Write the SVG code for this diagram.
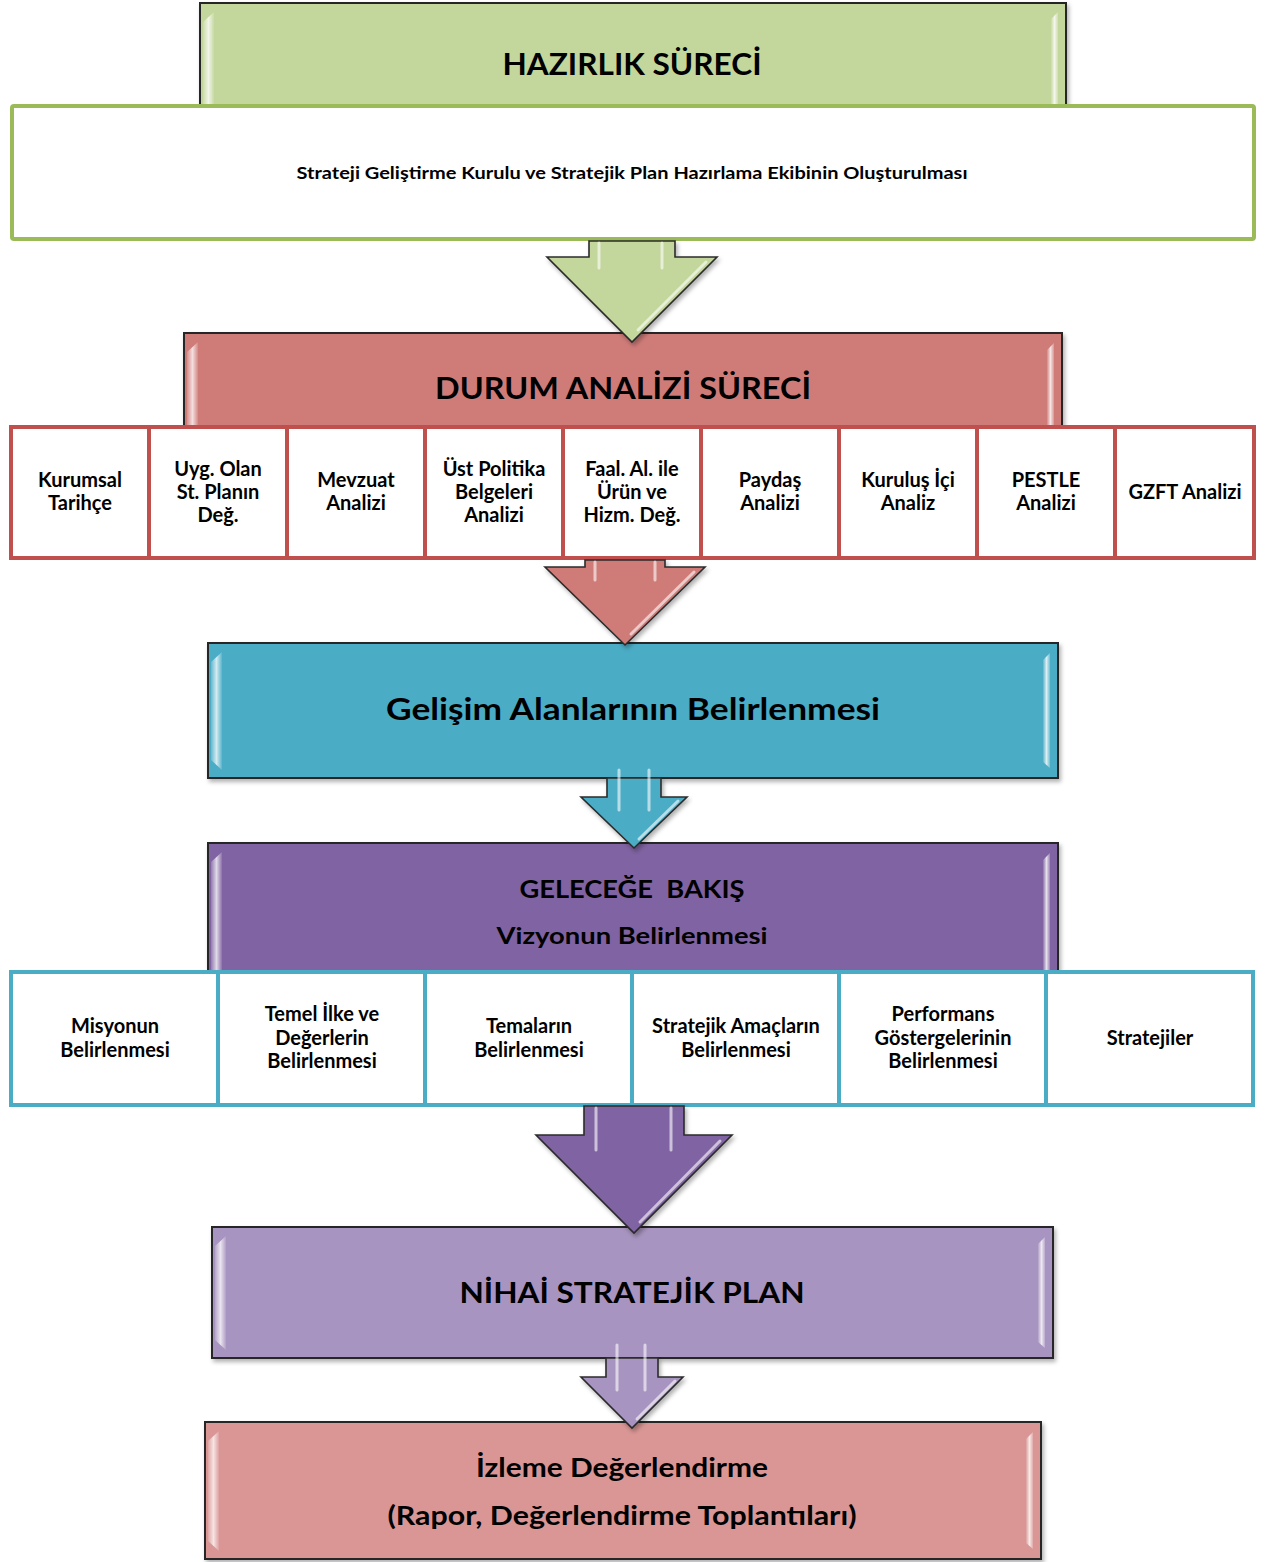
<svg xmlns="http://www.w3.org/2000/svg" width="1269" height="1562" viewBox="0 0 1269 1562">
<defs>
  <filter id="sh" x="-5%" y="-5%" width="110%" height="115%">
    <feDropShadow dx="2" dy="3" stdDeviation="2" flood-color="#000" flood-opacity="0.3"/>
  </filter>
  <linearGradient id="bevL" x1="0" y1="0" x2="1" y2="0">
    <stop offset="0" stop-color="#fff" stop-opacity="0.15"/>
    <stop offset="0.5" stop-color="#fff" stop-opacity="0.75"/>
    <stop offset="1" stop-color="#fff" stop-opacity="0.1"/>
  </linearGradient>
  <linearGradient id="bevR" x1="0" y1="0" x2="1" y2="0">
    <stop offset="0" stop-color="#fff" stop-opacity="0.1"/>
    <stop offset="0.5" stop-color="#fff" stop-opacity="0.8"/>
    <stop offset="1" stop-color="#fff" stop-opacity="0.2"/>
  </linearGradient>
</defs>
<style>
  .hdr { stroke: #262626; stroke-width: 2; filter: url(#sh); }
  .bl { fill: url(#bevL); }
  .br { fill: url(#bevR); }
  .arrow { stroke: #2b2b2b; stroke-width: 1.6; stroke-linejoin: miter; filter: url(#sh); }
  .hl { stroke: #fff; stroke-opacity: 0.6; stroke-width: 3; stroke-linecap: round; fill: none; }
  .t { font-family: Lato, "Open Sans", "Liberation Sans", sans-serif; font-weight: bold; fill: #000; text-anchor: middle; }
  .big { font-size: 30px; }
  .cell { font-size: 20px; }
  .rc { fill: #fff; stroke: #c0504d; stroke-width: 4; }
  .bc { fill: #fff; stroke: #4bacc6; stroke-width: 4; }
</style>

<!-- HAZIRLIK SÜRECİ header -->
<g id="hazirlik">
  <rect class="hdr" x="200" y="3" width="866" height="110" fill="#c3d69b"/>
  <path class="bl" d="M203,22 L214,12 L214,112 L203,112 Z"/>
  <path class="br" d="M1051,19 L1058,12 L1058,112 L1051,112 Z"/>
  <text class="t big" x="632" y="75" font-size="31" textLength="259" lengthAdjust="spacingAndGlyphs">HAZIRLIK SÜRECİ</text>
</g>

<g id="strateji-kurulu">
  <rect x="12" y="106" width="1242" height="133" rx="2" fill="#fff" stroke="#9bbb59" stroke-width="4"/>
  <text class="t" x="632" y="179" font-size="17" textLength="671" lengthAdjust="spacingAndGlyphs">Strateji Geliştirme Kurulu ve Stratejik Plan Hazırlama Ekibinin Oluşturulması</text>
</g>

<!-- DURUM ANALİZİ -->
<g id="durum">
  <rect class="hdr" x="184" y="333" width="878" height="100" fill="#cf7b79"/>
  <path class="bl" d="M187,352 L198,342 L198,432 L187,432 Z"/>
  <path class="br" d="M1047,350 L1054,343 L1054,432 L1047,432 Z"/>
  <text class="t big" x="623" y="399" textLength="376" lengthAdjust="spacingAndGlyphs">DURUM ANALİZİ SÜRECİ</text>
</g>

<g id="d1"><rect class="rc" x="11" y="427" width="138" height="131"/>
  <text class="t cell" x="80" y="487">Kurumsal</text><text class="t cell" x="80" y="510">Tarihçe</text></g>
<g id="d2"><rect class="rc" x="149" y="427" width="138" height="131"/>
  <text class="t cell" x="218" y="476">Uyg. Olan</text><text class="t cell" x="218" y="499">St. Planın</text><text class="t cell" x="218" y="522">Değ.</text></g>
<g id="d3"><rect class="rc" x="287" y="427" width="138" height="131"/>
  <text class="t cell" x="356" y="487">Mevzuat</text><text class="t cell" x="356" y="510">Analizi</text></g>
<g id="d4"><rect class="rc" x="425" y="427" width="138" height="131"/>
  <text class="t cell" x="494" y="476">Üst Politika</text><text class="t cell" x="494" y="499">Belgeleri</text><text class="t cell" x="494" y="522">Analizi</text></g>
<g id="d5"><rect class="rc" x="563" y="427" width="138" height="131"/>
  <text class="t cell" x="632" y="476">Faal. Al. ile</text><text class="t cell" x="632" y="499">Ürün ve</text><text class="t cell" x="632" y="522">Hizm. Değ.</text></g>
<g id="d6"><rect class="rc" x="701" y="427" width="138" height="131"/>
  <text class="t cell" x="770" y="487">Paydaş</text><text class="t cell" x="770" y="510">Analizi</text></g>
<g id="d7"><rect class="rc" x="839" y="427" width="138" height="131"/>
  <text class="t cell" x="908" y="487">Kuruluş İçi</text><text class="t cell" x="908" y="510">Analiz</text></g>
<g id="d8"><rect class="rc" x="977" y="427" width="138" height="131"/>
  <text class="t cell" x="1046" y="487">PESTLE</text><text class="t cell" x="1046" y="510">Analizi</text></g>
<g id="d9"><rect class="rc" x="1115" y="427" width="139" height="131"/>
  <text class="t cell" x="1185" y="499">GZFT Analizi</text></g>

<!-- Gelişim Alanları -->
<g id="gelisim">
  <rect class="hdr" x="208" y="643" width="850" height="135" fill="#4bacc6"/>
  <path class="bl" d="M211,662 L222,652 L222,770 L211,760 Z"/>
  <path class="br" d="M1043,660 L1050,653 L1050,768 L1043,762 Z"/>
  <text class="t big" x="633" y="720" font-size="31" textLength="494" lengthAdjust="spacingAndGlyphs">Gelişim Alanlarının Belirlenmesi</text>
</g>

<!-- GELECEĞE BAKIŞ -->
<g id="gelecege">
  <rect class="hdr" x="208" y="843" width="850" height="135" fill="#8064a2"/>
  <path class="bl" d="M211,862 L222,852 L222,977 L211,977 Z"/>
  <path class="br" d="M1043,860 L1050,853 L1050,977 L1043,977 Z"/>
  <text class="t" x="632" y="898" font-size="25" textLength="225" lengthAdjust="spacingAndGlyphs" xml:space="preserve">GELECEĞE  BAKIŞ</text>
  <text class="t" x="632" y="944" font-size="23.5" textLength="271" lengthAdjust="spacingAndGlyphs">Vizyonun Belirlenmesi</text>
</g>

<g id="g1"><rect class="bc" x="11" y="972" width="207" height="133"/>
  <text class="t cell" x="115" y="1033">Misyonun</text><text class="t cell" x="115" y="1057">Belirlenmesi</text></g>
<g id="g2"><rect class="bc" x="218" y="972" width="207" height="133"/>
  <text class="t cell" x="322" y="1021">Temel İlke ve</text><text class="t cell" x="322" y="1045">Değerlerin</text><text class="t cell" x="322" y="1068">Belirlenmesi</text></g>
<g id="g3"><rect class="bc" x="425" y="972" width="207" height="133"/>
  <text class="t cell" x="529" y="1033">Temaların</text><text class="t cell" x="529" y="1057">Belirlenmesi</text></g>
<g id="g4"><rect class="bc" x="632" y="972" width="207" height="133"/>
  <text class="t cell" x="736" y="1033">Stratejik Amaçların</text><text class="t cell" x="736" y="1057">Belirlenmesi</text></g>
<g id="g5"><rect class="bc" x="839" y="972" width="207" height="133"/>
  <text class="t cell" x="943" y="1021">Performans</text><text class="t cell" x="943" y="1045">Göstergelerinin</text><text class="t cell" x="943" y="1068">Belirlenmesi</text></g>
<g id="g6"><rect class="bc" x="1046" y="972" width="207" height="133"/>
  <text class="t cell" x="1150" y="1045">Stratejiler</text></g>

<!-- NİHAİ STRATEJİK PLAN -->
<g id="nihai">
  <rect class="hdr" x="212" y="1227" width="841" height="131" fill="#a894c0"/>
  <path class="bl" d="M215,1246 L226,1236 L226,1350 L215,1340 Z"/>
  <path class="br" d="M1038,1244 L1045,1237 L1045,1348 L1038,1342 Z"/>
  <text class="t" x="632" y="1303" font-size="29" textLength="345" lengthAdjust="spacingAndGlyphs">NİHAİ STRATEJİK PLAN</text>
</g>

<!-- İzleme Değerlendirme -->
<g id="izleme">
  <rect class="hdr" x="205" y="1422" width="836" height="137" fill="#d99694"/>
  <path class="bl" d="M208,1441 L219,1431 L219,1551 L208,1541 Z"/>
  <path class="br" d="M1026,1439 L1033,1432 L1033,1549 L1026,1543 Z"/>
  <text class="t" x="622" y="1477" font-size="26" textLength="292" lengthAdjust="spacingAndGlyphs">İzleme Değerlendirme</text>
  <text class="t" x="622" y="1525" font-size="26" textLength="469" lengthAdjust="spacingAndGlyphs">(Rapor, Değerlendirme Toplantıları)</text>
</g>

<!-- Connectors (block arrows) -->
<g id="connectors">
  <g id="arrow-green">
    <path class="arrow" fill="#c3d69b" d="M589,241 L675,241 L675,257 L717,257 L632,342 L547,257 L589,257 Z"/>
    <path d="M599,243 L599,268 M662,243 L662,268" class="hl"/>
    <path d="M706,262 L638,330" class="hl" stroke-opacity="0.5"/>
  </g>
  <g id="arrow-red">
    <path class="arrow" fill="#cf7b79" d="M585,560 L665,560 L665,567 L705,567 L625,645 L545,567 L585,567 Z"/>
    <path d="M595,562 L595,580 M655,562 L655,580" class="hl"/>
    <path d="M694,572 L631,634" class="hl" stroke-opacity="0.5"/>
  </g>
  <g id="arrow-blue">
    <path class="arrow" fill="#4bacc6" d="M607,778 L661,778 L661,797 L687,797 L634,848 L581,797 L607,797 Z"/>
    <path d="M619,770 L619,810 M649,770 L649,810" class="hl"/>
    <path d="M678,801 L639,839" class="hl" stroke-opacity="0.5"/>
  </g>
  <g id="arrow-purple">
    <path class="arrow" fill="#8064a2" d="M584,1106 L684,1106 L684,1135 L732,1135 L634,1233 L536,1135 L584,1135 Z"/>
    <path d="M596,1108 L596,1150 M671,1108 L671,1150" class="hl" stroke-opacity="0.5"/>
    <path d="M720,1141 L640,1222" class="hl" stroke-opacity="0.5"/>
  </g>
  <g id="arrow-lavender">
    <path class="arrow" fill="#a894c0" d="M606,1358 L658,1358 L658,1377 L683,1377 L632,1428 L581,1377 L606,1377 Z"/>
    <path d="M617,1345 L617,1390 M645,1345 L645,1390" class="hl"/>
    <path d="M675,1381 L637,1419" class="hl" stroke-opacity="0.5"/>
  </g>
</g>
</svg>
